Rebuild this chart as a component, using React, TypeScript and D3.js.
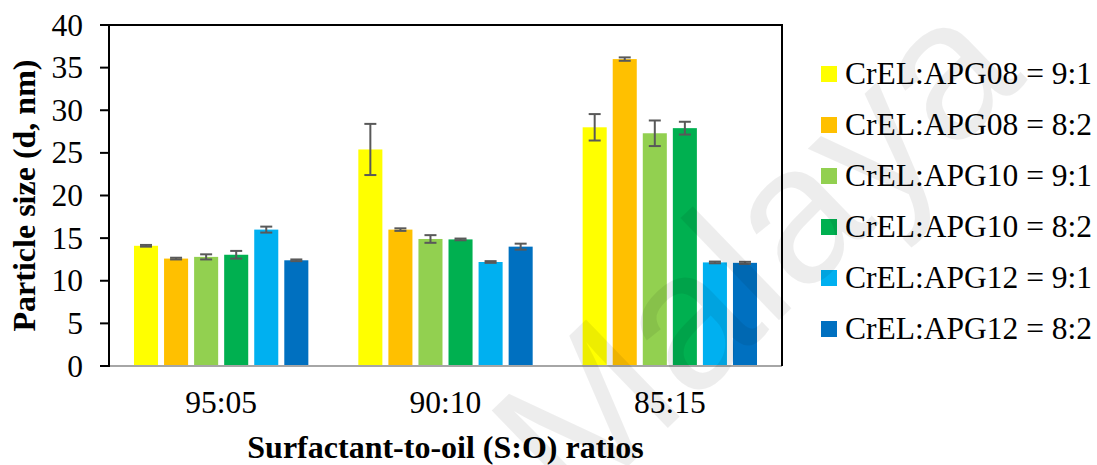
import React from "react";
import * as d3 from "d3";

const categories = ["95:05", "90:10", "85:15"];
const seriesNames = [
  "CrEL:APG08 = 9:1",
  "CrEL:APG08 = 8:2",
  "CrEL:APG10 = 9:1",
  "CrEL:APG10 = 8:2",
  "CrEL:APG12 = 9:1",
  "CrEL:APG12 = 8:2",
];
const seriesColors = ["#FFFF00", "#FFC000", "#92D050", "#00B050", "#00B0F0", "#0070C0"];
// values[series][category]
const values = [
  [14.1, 25.4, 28.0],
  [12.6, 16.0, 36.0],
  [12.8, 14.9, 27.3],
  [13.05, 14.85, 27.9],
  [16.0, 12.2, 12.15],
  [12.4, 14.0, 12.1],
];
const errors = [
  [0.1, 3.0, 1.55],
  [0.1, 0.15, 0.2],
  [0.3, 0.45, 1.5],
  [0.45, 0.1, 0.75],
  [0.35, 0.1, 0.1],
  [0.1, 0.35, 0.12],
];
const yTicks = [0, 5, 10, 15, 20, 25, 30, 35, 40];
const yTitle = "Particle size (d, nm)";
const xTitle = "Surfactant-to-oil (S:O) ratios";
const watermark = "Malaya";

const W = 1097;
const H = 465;
const left = 109;
const right = 782;
const top = 25;
const bottom = 366;
const serif = "Liberation Serif, Times New Roman, Times, serif";
const fs = 31.5;
const fsTitle = 32;

export default function App() {
  const x0 = d3.scaleBand<string>().domain(categories).range([left, right]).padding(0);
  const groupW = x0.bandwidth() * 0.804;
  const x1 = d3
    .scaleBand<number>()
    .domain(d3.range(seriesNames.length))
    .range([0, groupW])
    .paddingInner(0.2)
    .paddingOuter(0.1);
  const y = d3.scaleLinear().domain([0, 40]).range([bottom, top]);
  const offset = (x0.bandwidth() - groupW) / 2;

  return (
    <svg width={W} height={H} style={{ position: "absolute", left: 0, top: 0, background: "#fff" }}>
      <rect x={0} y={0} width={W} height={H} fill="#fff" />
      {/* bars */}
      {categories.map((c, ci) => (
        <g key={c}>
          {seriesNames.map((s, si) => {
            const v = values[si][ci];
            const bx = (x0(c) as number) + offset + (x1(si) as number);
            const bw = x1.bandwidth();
            return (
              <rect
                key={s}
                x={bx}
                y={y(v)}
                width={bw}
                height={y(0) - y(v)}
                fill={seriesColors[si]}
              />
            );
          })}
        </g>
      ))}
      {/* error bars */}
      {categories.map((c, ci) => (
        <g key={"e" + c} stroke="#595959" strokeWidth={2}>
          {seriesNames.map((s, si) => {
            const v = values[si][ci];
            const e = errors[si][ci];
            const cx = (x0(c) as number) + offset + (x1(si) as number) + x1.bandwidth() / 2;
            return (
              <g key={s}>
                <line x1={cx} x2={cx} y1={y(v + e)} y2={y(v - e)} />
                <line x1={cx - 6} x2={cx + 6} y1={y(v + e)} y2={y(v + e)} />
                <line x1={cx - 6} x2={cx + 6} y1={y(v - e)} y2={y(v - e)} />
              </g>
            );
          })}
        </g>
      ))}
      {/* frame */}
      <line x1={left} x2={right} y1={bottom} y2={bottom} stroke="#a6a6a6" strokeWidth={2} />
      <line x1={left} x2={right} y1={top} y2={top} stroke="#000" strokeWidth={2} />
      <line x1={right} x2={right} y1={top - 1} y2={bottom} stroke="#000" strokeWidth={2} />
      <line x1={left} x2={left} y1={top - 1} y2={bottom + 1} stroke="#000" strokeWidth={2} />
      {/* y ticks */}
      {yTicks.map((t) => (
        <g key={t}>
          <line x1={left - 9} x2={left} y1={y(t)} y2={y(t)} stroke="#000" strokeWidth={2} />
          <text
            x={83}
            y={y(t) + 10.5}
            textAnchor="end"
            fontFamily={serif}
            fontSize={fs}
            fill="#000"
          >
            {t}
          </text>
        </g>
      ))}
      {/* x labels */}
      {categories.map((c) => (
        <text
          key={"l" + c}
          x={(x0(c) as number) + x0.bandwidth() / 2}
          y={413}
          textAnchor="middle"
          fontFamily={serif}
          fontSize={fs}
          fill="#000"
        >
          {c}
        </text>
      ))}
      {/* axis titles */}
      <text
        x={(left + right) / 2}
        y={458}
        textAnchor="middle"
        fontFamily={serif}
        fontSize={fsTitle}
        fontWeight="bold"
        fill="#000"
      >
        {xTitle}
      </text>
      <text
        transform={`translate(35,${(top + bottom) / 2}) rotate(-90)`}
        textAnchor="middle"
        fontFamily={serif}
        fontSize={fsTitle}
        fontWeight="bold"
        fill="#000"
      >
        {yTitle}
      </text>
      {/* legend */}
      {seriesNames.map((s, i) => {
        const cy = 74 + i * 51;
        return (
          <g key={"lg" + s}>
            <rect x={821} y={cy - 8} width={16} height={16} fill={seriesColors[i]} />
            <text x={845} y={cy + 10} fontFamily={serif} fontSize={fs} fill="#000">
              {s}
            </text>
          </g>
        );
      })}
      {/* watermark */}
      <text
        transform="translate(765,262) rotate(-44)"
        textAnchor="middle"
        dominantBaseline="middle"
        fontFamily="Liberation Sans, Arial, sans-serif"
        fontSize={196}
        fill="#000"
        fillOpacity={0.07}
      >
        {watermark}
      </text>
    </svg>
  );
}
